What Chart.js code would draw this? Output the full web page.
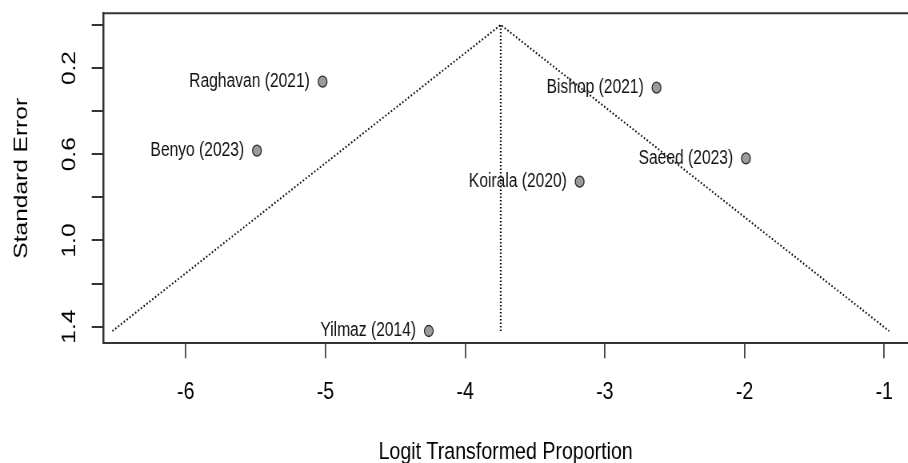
<!DOCTYPE html>
<html lang="en">
  <head>
    <meta charset="UTF-8" />
    <title>Funnel Plot</title>
    <script src="https://cdn.jsdelivr.net/npm/chart.js@4.4.1/dist/chart.umd.min.js"></script>
    <style>
      html, body { margin: 0; padding: 0; overflow: hidden; background: #fff; }
      #wrap { width: 908px; height: 463px; overflow: hidden; }
      /* the reference is squeezed sideways, so draw wide and squeeze it back */
      #funnel { transform: scaleX(0.8); transform-origin: 0 0; }
    </style>
  </head>
  <body>
    <div id="wrap">
      <canvas id="funnel" width="1135" height="463"></canvas>
    </div>

    <script>
      // studies
      const studies = ['Raghavan (2021)', 'Benyo (2023)', 'Bishop (2021)', 'Saeed (2023)', 'Koirala (2020)', 'Yilmaz (2014)'];
      const logitProp = [-5.02, -5.49, -2.63, -1.99, -3.18, -4.26];
      const stdErr = [0.263, 0.583, 0.291, 0.619, 0.727, 1.42];

      // funnel outline and centre line
      const funnelX = [-6.525, -3.745, -0.965];
      const funnelSE = [1.42, 0, 1.42];
      const centreX = [-3.745, -3.745];
      const centreSE = [0, 1.42];

      // axis ticks
      const xTickVals = [-6, -5, -4, -3, -2, -1];
      const xTickLabels = ['-6', '-5', '-4', '-3', '-2', '-1'];
      const yTickVals = [0, 0.2, 0.4, 0.6, 0.8, 1.0, 1.2, 1.4];
      const yTickLabels = ['', '0.2', '', '0.6', '', '1.0', '', '1.4'];

      const FONT = '"Liberation Sans", Arial, sans-serif';
      Chart.defaults.font.family = FONT;
      Chart.defaults.color = '#000';

      const toPts = (xs, ys) => xs.map((x, i) => ({ x: x, y: ys[i] }));

      const boxTop = {
        id: 'boxTop',
        afterDraw(chart) {
          const { ctx, chartArea } = chart;
          ctx.save();
          ctx.strokeStyle = '#333';
          ctx.lineWidth = 2;
          ctx.beginPath();
          ctx.moveTo(chartArea.left - 1, chartArea.top);
          ctx.lineTo(chart.width, chartArea.top);
          ctx.stroke();
          ctx.restore();
        }
      };

      // rotated y tick labels, placed with the y scale
      const yLabels = {
        id: 'yLabels',
        afterDraw(chart) {
          const { ctx } = chart;
          const y = chart.scales.y;
          ctx.save();
          ctx.font = '24.5px ' + FONT;
          ctx.fillStyle = '#000';
          ctx.textAlign = 'center';
          ctx.textBaseline = 'middle';
          yTickVals.forEach((v, i) => {
            if (!yTickLabels[i]) return;
            ctx.save();
            ctx.translate(87, y.getPixelForValue(v));
            ctx.rotate(-Math.PI / 2);
            ctx.fillText(yTickLabels[i], 0, 0);
            ctx.restore();
          });
          ctx.restore();
        }
      };

      // study names left of each point
      const studyNames = {
        id: 'studyNames',
        afterDatasetsDraw(chart) {
          const { ctx } = chart;
          const meta = chart.getDatasetMeta(0);
          ctx.save();
          ctx.font = '19.5px ' + FONT;
          ctx.fillStyle = '#111';
          ctx.textAlign = 'right';
          ctx.textBaseline = 'middle';
          meta.data.forEach((pt, i) => {
            ctx.fillText(studies[i], pt.x - 16, pt.y);
          });
          ctx.restore();
        }
      };

      new Chart(document.getElementById('funnel'), {
        type: 'scatter',
        data: {
          datasets: [
            {
              data: toPts(logitProp, stdErr),
              pointRadius: 5.5,
              pointBackgroundColor: '#9b9b9b',
              pointBorderColor: '#2a2a2a',
              pointBorderWidth: 1.3
            },
            {
              data: toPts(funnelX, funnelSE),
              showLine: true,
              pointRadius: 0,
              borderColor: '#111',
              borderWidth: 2,
              borderDash: [1.8, 2.4]
            },
            {
              data: toPts(centreX, centreSE),
              showLine: true,
              pointRadius: 0,
              borderColor: '#111',
              borderWidth: 2.2,
              borderDash: [1.5, 2]
            }
          ]
        },
        options: {
          responsive: false,
          animation: false,
          layout: { autoPadding: false, padding: { left: 13, top: 13.3, right: 0, bottom: 0 } },
          plugins: { legend: { display: false }, tooltip: { enabled: false } },
          scales: {
            x: {
              type: 'linear',
              min: -6.59,
              max: -0.83,
              afterBuildTicks: s => { s.ticks = xTickVals.map(v => ({ value: v })); },
              ticks: {
                callback: (v, i) => xTickLabels[i],
                font: { size: 24.5, lineHeight: 1.812 },
                padding: 12,
                maxRotation: 0,
                color: '#000'
              },
              grid: { drawOnChartArea: false, tickLength: 15, color: '#444', lineWidth: 1.8 },
              border: { color: '#333', width: 2 },
              title: {
                display: true,
                text: 'Logit Transformed Proportion',
                font: { size: 24.5, lineHeight: 1.1 },
                padding: { top: 12.35, bottom: -3 },
                color: '#000'
              }
            },
            y: {
              type: 'linear',
              reverse: true,
              min: -0.054,
              max: 1.477,
              afterBuildTicks: s => { s.ticks = yTickVals.map(v => ({ value: v })); },
              ticks: { display: false },
              grid: { drawOnChartArea: false, tickLength: 14.4, color: '#333', lineWidth: 2 },
              border: { color: '#333', width: 2.5 },
              title: {
                display: true,
                text: 'Standard Error',
                font: { size: 24.5 },
                padding: { top: 0, bottom: 72.3 },
                color: '#000'
              }
            }
          }
        },
        plugins: [boxTop, yLabels, studyNames]
      });
    </script>
  </body>
</html>
